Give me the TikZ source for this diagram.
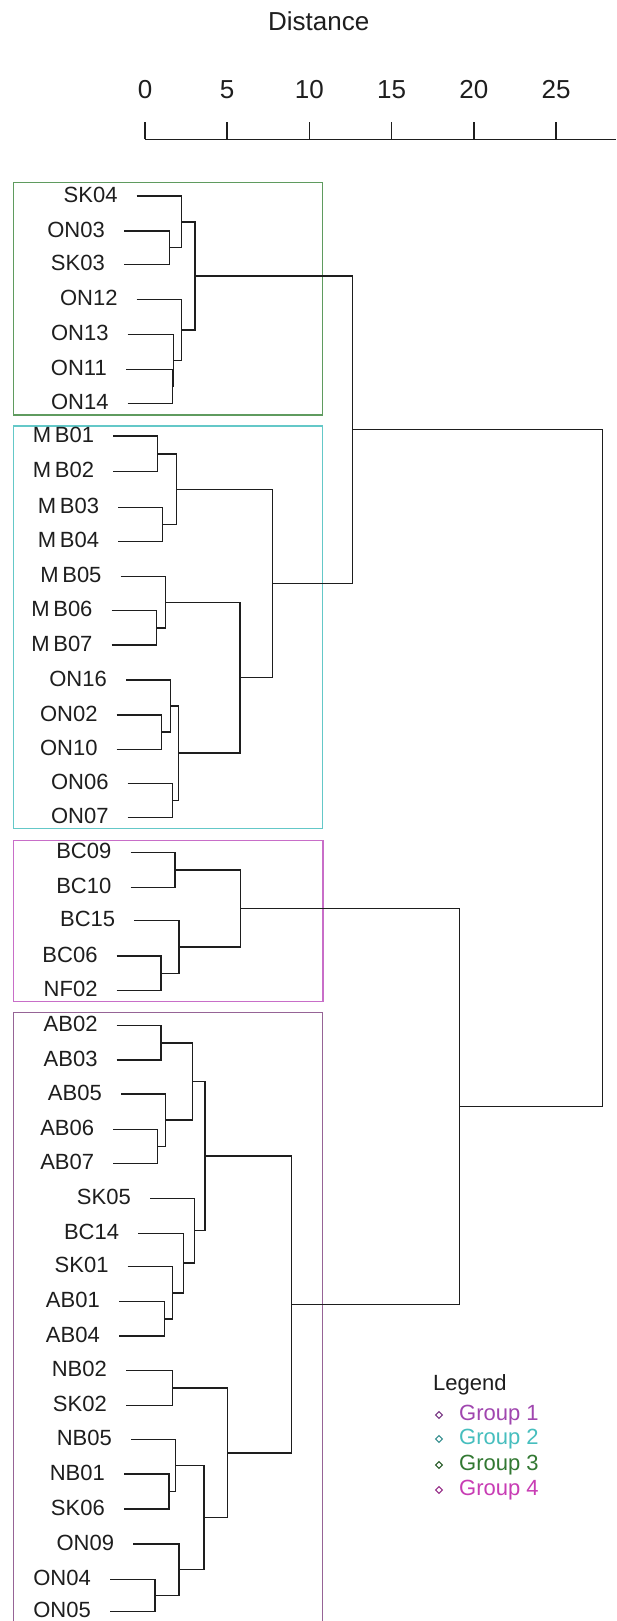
\documentclass[tikz,border=0pt]{standalone}
\usepackage{fontspec}
\setmainfont{Liberation Sans}
\definecolor{gthree}{RGB}{95,155,95}
\definecolor{gtwo}{RGB}{100,200,200}
\definecolor{gfour}{RGB}{200,110,200}
\definecolor{gone}{RGB}{150,100,150}
\definecolor{tone}{RGB}{160,70,175}
\definecolor{ttwo}{RGB}{70,190,190}
\definecolor{tthree}{RGB}{50,120,50}
\definecolor{tfour}{RGB}{200,60,180}
\definecolor{ink}{RGB}{30,30,30}
\tikzset{
  dend/.style={line width=1.5pt, draw=ink},
  grpbox/.style={line width=1.3pt},
  lab/.style={inner sep=0pt, anchor=east, text=ink, font=\fontsize{22}{24}\selectfont},
  axlab/.style={inner sep=0pt, text=ink, font=\fontsize{26}{28}\selectfont},
  leglab/.style={inner sep=0pt, anchor=west, font=\fontsize{22}{24}\selectfont},
  legmark/.style={line width=1pt}
}
\newcommand\leaf[4]{\coordinate (#1) at (#2,#3); \node[lab] (t#1) at (#2-19,#3-1.5) {#4};}
\newcommand\jn[5]{\coordinate (#1) at (#2,#3); \draw[dend] (#4) -| (#1) (#5) -| (#1);}
\begin{document}
\begin{tikzpicture}[x=1pt,y=-1pt]
\useasboundingbox[fill=white] (0,0) rectangle (616,1621);
% axis
\node[axlab] (title) at (318.7,21.7) {Distance};
\coordinate (ax0) at (145,139.3);
\coordinate (axend) at (616,139.3);
\draw[dend] (ax0) -- (axend);
\foreach \v [count=\i from 0] in {0,5,10,15,20,25}{
  \coordinate (tk\i) at (145+82.2*\i,139.3);
  \draw[dend] (tk\i) -- ++(0,-17.6);
  \node[axlab] (tl\i) at (145+82.2*\i,90) {\v};
}
% group boxes
\draw[grpbox, draw=gthree] (13.3,182.7) rectangle (322.5,415);
\draw[grpbox, draw=gtwo] (13.3,426) rectangle (322.7,828.7);
\draw[grpbox, draw=gfour] (13.8,840.7) rectangle (323,1001.7);
\draw[grpbox, draw=gone] (13.3,1625) -- (13.3,1012.7) -- (322.7,1012.7) -- (322.7,1625);
% group 3 leaves
\leaf{SK04}{136.7}{196}{SK04}
\leaf{ON03}{124}{231}{ON03}
\leaf{SK03}{124}{264.3}{SK03}
\leaf{ON12}{136.7}{299.3}{ON12}
\leaf{ON13}{127.7}{334.3}{ON13}
\leaf{ON11}{126}{369.3}{ON11}
\leaf{ON14}{127.7}{403.3}{ON14}
\jn{g3a}{169.3}{247.7}{ON03}{SK03}
\jn{g3b}{181.7}{221.8}{SK04}{g3a}
\jn{g3c}{172.3}{386.3}{ON11}{ON14}
\jn{g3d}{173.3}{360.3}{ON13}{g3c}
\jn{g3e}{181.7}{329.8}{ON12}{g3d}
\jn{g3f}{195}{275.8}{g3b}{g3e}
% group 2 leaves
\leaf{MB01}{113.3}{436}{M\,B01}
\leaf{MB02}{113.3}{471.7}{M\,B02}
\leaf{MB03}{118.3}{507.7}{M\,B03}
\leaf{MB04}{118.3}{541.7}{M\,B04}
\leaf{MB05}{120.7}{576.7}{M\,B05}
\leaf{MB06}{111.7}{610.7}{M\,B06}
\leaf{MB07}{111.7}{645}{M\,B07}
\leaf{ON16}{126}{680}{ON16}
\leaf{ON02}{116.7}{715}{ON02}
\leaf{ON10}{116.7}{749.3}{ON10}
\leaf{ON06}{127.7}{783.3}{ON06}
\leaf{ON07}{127.7}{817.3}{ON07}
\jn{g2a}{157.3}{453.8}{MB01}{MB02}
\jn{g2b}{162.7}{524.7}{MB03}{MB04}
\jn{g2c}{176.7}{489.3}{g2a}{g2b}
\jn{g2d}{156.7}{627.8}{MB06}{MB07}
\jn{g2e}{165.7}{602.3}{MB05}{g2d}
\jn{g2f}{161.7}{732.2}{ON02}{ON10}
\jn{g2g}{170.7}{706.1}{ON16}{g2f}
\jn{g2h}{172.7}{800.3}{ON06}{ON07}
\jn{g2i}{178.3}{753.2}{g2g}{g2h}
\jn{g2j}{240}{677.7}{g2e}{g2i}
\jn{g2k}{272.7}{583.5}{g2c}{g2j}
\jn{topA}{352.7}{429.4}{g3f}{g2k}
% group 4 leaves
\leaf{BC09}{130.5}{852.7}{BC09}
\leaf{BC10}{130.5}{887.3}{BC10}
\leaf{BC15}{134.4}{920.7}{BC15}
\leaf{BC06}{116.7}{956}{BC06}
\leaf{NF02}{116.7}{990.7}{NF02}
\jn{g4a}{175.2}{870}{BC09}{BC10}
\jn{g4b}{161.1}{973.3}{BC06}{NF02}
\jn{g4c}{178.8}{947}{BC15}{g4b}
\jn{g4d}{240.5}{908.6}{g4a}{g4c}
% group 1 leaves
\leaf{AB02}{116.7}{1025.7}{AB02}
\leaf{AB03}{116.7}{1060}{AB03}
\leaf{AB05}{121}{1094}{AB05}
\leaf{AB06}{113.3}{1129.3}{AB06}
\leaf{AB07}{113.3}{1163.3}{AB07}
\leaf{SK05}{150}{1198.3}{SK05}
\leaf{BC14}{138.3}{1233.3}{BC14}
\leaf{SK01}{127.7}{1266.7}{SK01}
\leaf{AB01}{119}{1301.7}{AB01}
\leaf{AB04}{119}{1336}{AB04}
\leaf{NB02}{126}{1370.7}{NB02}
\leaf{SK02}{126}{1405.7}{SK02}
\leaf{NB05}{131}{1439.3}{NB05}
\leaf{NB01}{124}{1474}{NB01}
\leaf{SK06}{124}{1509}{SK06}
\leaf{ON09}{133.3}{1544}{ON09}
\leaf{ON04}{110}{1579.3}{ON04}
\leaf{ON05}{110}{1611.5}{ON05}
\jn{g1a}{161.1}{1042.8}{AB02}{AB03}
\jn{g1b}{157.3}{1146.3}{AB06}{AB07}
\jn{g1c}{165.7}{1120.2}{AB05}{g1b}
\jn{g1d}{192.4}{1081.5}{g1a}{g1c}
\jn{g1e}{164.3}{1318.9}{AB01}{AB04}
\jn{g1f}{172.7}{1292.8}{SK01}{g1e}
\jn{g1g}{183.3}{1263}{BC14}{g1f}
\jn{g1h}{194.3}{1230.6}{SK05}{g1g}
\jn{g1i}{205}{1156}{g1d}{g1h}
\jn{g1j}{172.3}{1388.2}{NB02}{SK02}
\jn{g1k}{169}{1491.5}{NB01}{SK06}
\jn{g1l}{175.7}{1465.4}{NB05}{g1k}
\jn{g1m}{155}{1595.4}{ON04}{ON05}
\jn{g1n}{179}{1569.7}{ON09}{g1m}
\jn{g1o}{204}{1517.6}{g1l}{g1n}
\jn{g1p}{227.7}{1452.9}{g1j}{g1o}
\jn{g1q}{291.7}{1304.5}{g1i}{g1p}
\jn{topB}{459.7}{1106.5}{g4d}{g1q}
\jn{root}{602.7}{767.9}{topA}{topB}
% legend
\node[leglab, text=ink] (legend) at (433,1385) {Legend};
\foreach \c/\t/\y/\n in {tone/1/1415/1, ttwo/2/1439/2, tthree/3/1465/3, tfour/4/1490/4}{
  \draw[legmark, draw=\c!75!black] (439,\y-3.4) -- (442.4,\y) -- (439,\y+3.4) -- (435.6,\y) -- cycle;
  \node[leglab, text=\c] (leg\n) at (459,\y) {Group \t};
}
\end{tikzpicture}
\end{document}
